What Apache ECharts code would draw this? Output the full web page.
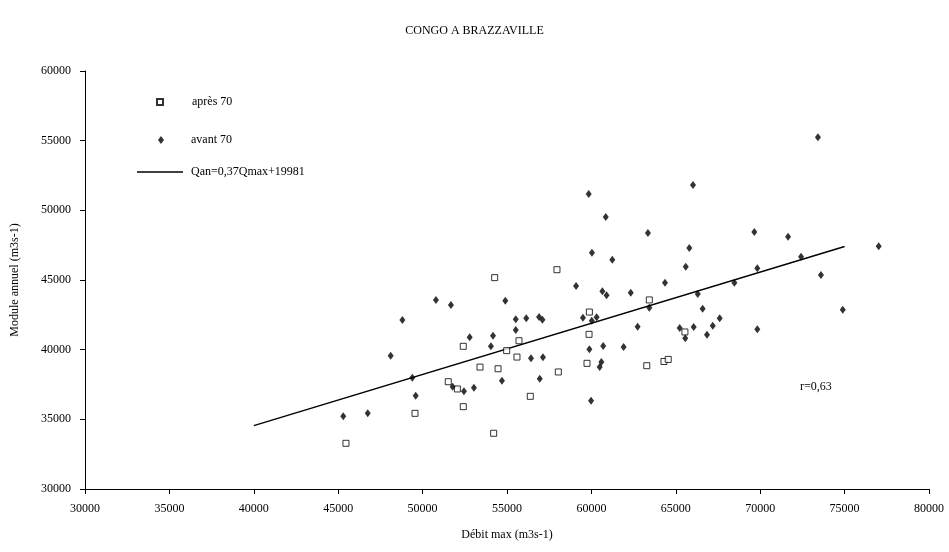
<!DOCTYPE html>
<html>
<head>
<meta charset="utf-8">
<script src="https://cdn.jsdelivr.net/npm/echarts@6/dist/echarts.min.js"></script>
<style>
html, body { margin: 0; padding: 0; background: #fff; }
#chart { width: 949px; height: 552px; }
</style>
</head>
<body>
<div id="chart"></div>
<script>
// valeurs : [Qmax, Qan]
var apres70 = [
	[52410, 40240], [53400, 38750], [51520, 37700], [52060, 37180], [52410, 35910],
	[49550, 35430], [45460, 33280], [57960, 45740], [54270, 45170], [63430, 43570],
	[59880, 42700], [65540, 41270], [59860, 41100], [55710, 40640], [54980, 39930],
	[55590, 39470], [59740, 39020], [63280, 38850], [54470, 38630], [58040, 38400],
	[56380, 36650], [54210, 34000], [64300, 39150], [64550, 39300]
];

var avant70 = [
	[50790, 43570], [51680, 43210], [48800, 42130], [52790, 40890], [48110, 39570],
	[49390, 37990], [51780, 37340], [52450, 37010], [53040, 37270], [49590, 36700],
	[45300, 35220], [46750, 35430], [63350, 48370], [65800, 47300], [60030, 46960],
	[61240, 46460], [65590, 45950], [64360, 44810], [59090, 44570], [60650, 44200],
	[60900, 43900], [62330, 44090], [66300, 44000], [63430, 43010], [54900, 43510],
	[66590, 42940], [59500, 42290], [60020, 42080], [60310, 42320], [55520, 42180],
	[56140, 42250], [56900, 42350], [57100, 42150], [62740, 41650], [65230, 41550],
	[66060, 41630], [65560, 40820], [66850, 41070], [55520, 41410], [54170, 41000],
	[54050, 40240], [60700, 40260], [61910, 40190], [59880, 40030], [56420, 39380],
	[57130, 39450], [60590, 39120], [60490, 38760], [54700, 37770], [56940, 37920],
	[59980, 36340], [66020, 51820], [59840, 51170], [60850, 49520], [73420, 55240],
	[69650, 48450], [71650, 48110], [77020, 47420], [72420, 46670], [69830, 45840],
	[73600, 45360], [68470, 44810], [74890, 42870], [67600, 42250], [67190, 41720],
	[69830, 41460]
];

// extrémités de la droite de régression
var droite = [[40000, 34550], [75000, 47400]];

var xTicks = [30000, 80000, 5000];
var yTicks = [30000, 60000, 5000];

var titre = 'CONGO A BRAZZAVILLE';
var nomApres = 'après 70';
var nomAvant = 'avant 70';
var nomDroite = 'Qan=0,37Qmax+19981';
var coefR = 'r=0,63';

var serif = 'Liberation Serif';

function ScatterChart(divId) {
	var myChart = echarts.init(document.getElementById(divId));
	var chartOption;

	// one legend per row, the reference rows are unevenly spaced
	function legendFor(item, left, top, w, h, pad) {
		return {
			data : [item],
			orient : 'vertical',
			left : left,
			top : top,
			padding : 0,
			itemWidth : w,
			itemHeight : h,
			textStyle : {
				fontFamily : serif,
				fontSize : 12,
				color : '#000',
				padding : [0, 0, 0, pad]
			}
		};
	}

	function axisBase(ticks, name, gap) {
		return {
			type : 'value',
			min : ticks[0],
			max : ticks[1],
			interval : ticks[2],
			name : name,
			nameLocation : 'middle',
			nameGap : gap,
			nameTextStyle : { fontFamily : serif, fontSize : 12, color : '#000' },
			splitLine : { show : false },
			axisLine : { lineStyle : { color : '#000', width : 1 } },
			axisTick : { length : 5, lineStyle : { color : '#000' } },
			axisLabel : {
				fontFamily : serif,
				fontSize : 12,
				color : '#000',
				margin : 14,
				formatter : function(v) { return String(v); }
			}
		};
	}

	function initOption() {
		chartOption = {
			backgroundColor : '#fff',
			animation : false,
			title : {
				text : titre,
				left : 'center',
				top : 20,
				textStyle : { fontFamily : serif, fontSize : 12, fontWeight : 'normal', color : '#000' }
			},
			legend : [
				legendFor(nomApres, 156, 96, 6, 6, 24),
				legendFor(nomAvant, 158, 134, 6, 8, 22),
				legendFor({ name : nomDroite, icon : 'rect' }, 137, 166, 46, 1.5, 3)
			],
			grid : { left : 85, right : 20, top : 71, bottom : 63 },
			xAxis : axisBase(xTicks, 'Débit max (m3s-1)', 40),
			yAxis : axisBase(yTicks, 'Module annuel (m3s-1)', 64),
			graphic : [{
				type : 'text',
				left : 800,
				top : 381,
				style : { text : coefR, font : '12px ' + serif, fill : '#000' }
			}],
			series : [
				{
					name : nomApres,
					type : 'scatter',
					symbol : 'rect',
					symbolSize : 6,
					itemStyle : { color : '#fff', borderColor : '#000', borderWidth : 1 },
					data : apres70,
					z : 3
				},
				{
					name : nomAvant,
					type : 'scatter',
					symbol : 'diamond',
					symbolSize : [6, 8],
					itemStyle : { color : '#000' },
					data : avant70,
					z : 4
				},
				{
					name : nomDroite,
					type : 'line',
					symbol : 'none',
					itemStyle : { color : '#000' },
					lineStyle : { color : '#000', width : 1.5 },
					data : droite,
					z : 2
				}
			]
		};
	}

	this.draw = function() {
		myChart.setOption(chartOption);
	};

	initOption();
}

var chart = new ScatterChart('chart');
chart.draw();
</script>
</body>
</html>
